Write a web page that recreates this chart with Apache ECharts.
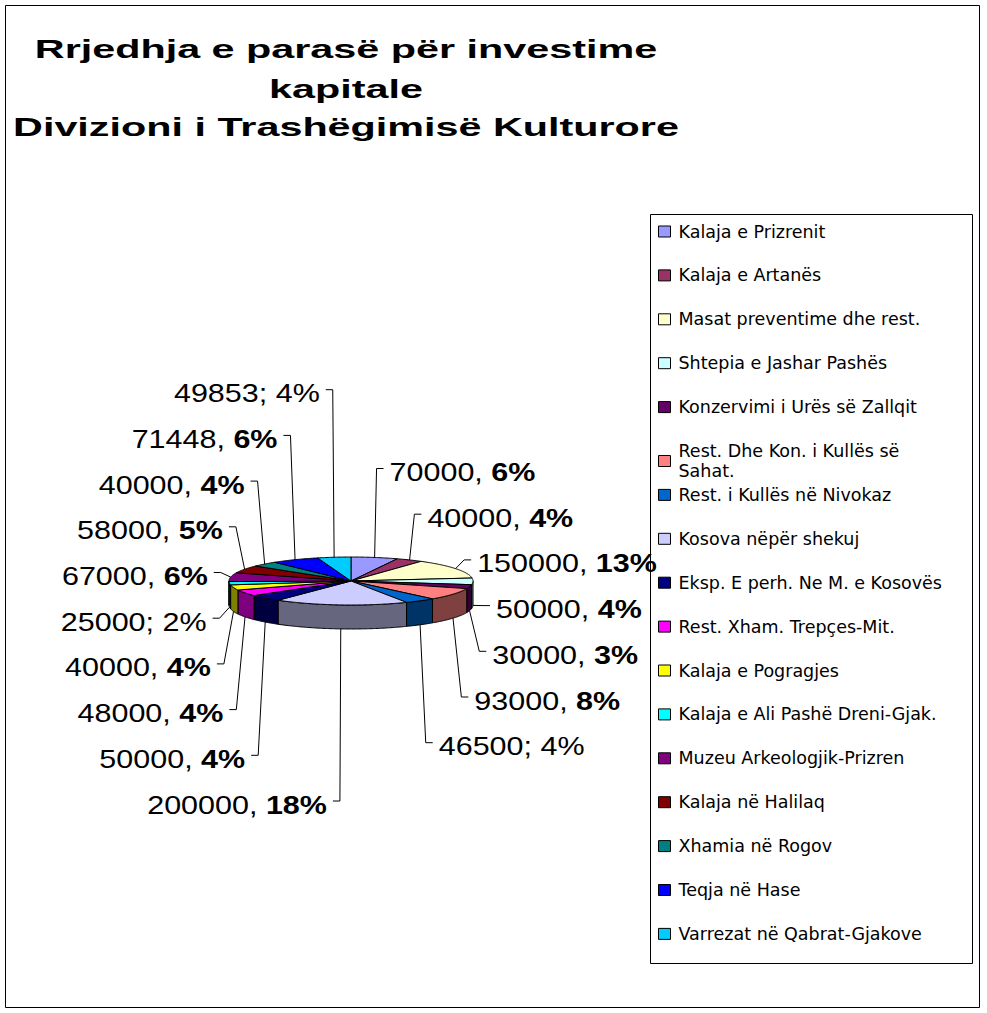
<!DOCTYPE html>
<html>
<head>
<meta charset="UTF-8">
<title>Rrjedhja e parasë për investime kapitale</title>
<script src="https://cdn.jsdelivr.net/npm/echarts@6/dist/echarts.min.js"></script>
<style>
    body { margin: 0; padding: 0; background: #ffffff; }
    #app { width: 987px; height: 1013px; }
</style>
</head>
<body>
<div id="app"></div>
<script>
    var titleLines = ['Rrjedhja e parasë për investime', 'kapitale', 'Divizioni i Trashëgimisë Kulturore'];
    var names = ['Kalaja e Prizrenit', 'Kalaja e Artanës', 'Masat preventime dhe rest.', 'Shtepia e Jashar Pashës',
        'Konzervimi i Urës së Zallqit', 'Rest. Dhe Kon. i Kullës së Sahat.', 'Rest. i Kullës në Nivokaz',
        'Kosova nëpër shekuj', 'Eksp. E perh. Ne M. e Kosovës', 'Rest. Xham. Trepçes-Mit.', 'Kalaja e Pogragjes',
        'Kalaja e Ali Pashë Dreni-Gjak.', 'Muzeu Arkeologjik-Prizren', 'Kalaja në Halilaq', 'Xhamia në Rogov',
        'Teqja në Hase', 'Varrezat në Qabrat-Gjakove'];
    var values = [70000, 40000, 150000, 50000, 30000, 93000, 46500, 200000, 50000, 48000, 40000, 25000, 67000, 58000, 40000, 71448, 49853];
    // label separator as printed on the chart (';' labels have a plain percent)
    var separators = [',', ',', ',', ',', ',', ',', ';', ',', ',', ',', ',', ';', ',', ',', ',', ',', ';'];
    var colors = ['#9999FF', '#993366', '#FFFFCC', '#CCFFFF', '#660066', '#FF8080', '#0066CC', '#CCCCFF', '#000080',
        '#FF00FF', '#FFFF00', '#00FFFF', '#800080', '#800000', '#008080', '#0000FF', '#00CCFF'];

    var total = values.reduce(function (a, b) { return a + b; }, 0);
    var cum = [0];
    values.forEach(function (v, i) { cum.push(cum[i] + v); });

    // pie geometry (flat 3d look)
    var cx = 351, cy = 581, rx = 122, ry = 24, depth = 24;
    var labelGap = 45.7, rightTop = 472.5, leftBottom = 805;

    var nRight = 0;
    values.forEach(function (v, i) {
        if ((cum[i] + v / 2) / total < 0.5) nRight++;
    });

    function shade(hex) {
        var c = parseInt(hex.slice(1), 16);
        var r = (c >> 16) >> 1, g = ((c >> 8) & 255) >> 1, b = (c & 255) >> 1;
        return 'rgb(' + r + ',' + g + ',' + b + ')';
    }

    function pt(a, dy) {
        return [cx + rx * Math.sin(a), cy - ry * Math.cos(a) + (dy || 0)];
    }

    function arc(a0, a1, dy) {
        var n = Math.max(2, Math.ceil((a1 - a0) / 0.01));
        var out = [];
        for (var k = 0; k <= n; k++) out.push(pt(a0 + (a1 - a0) * k / n, dy));
        return out;
    }

    function renderSlice(params, api) {
        var i = params.dataIndex;
        var a0 = cum[i] / total * Math.PI * 2;
        var a1 = cum[i + 1] / total * Math.PI * 2;
        var children = [];

        // visible outer wall (front half only)
        var w0 = Math.max(a0, Math.PI / 2), w1 = Math.min(a1, Math.PI * 1.5);
        if (w1 > w0) {
            var top = arc(w0, w1, 0);
            var bot = arc(w0, w1, depth).reverse();
            children.push({
                type: 'polygon', z2: 1,
                shape: {points: top.concat(bot)},
                style: {fill: shade(colors[i]), stroke: '#000', lineWidth: 1, lineJoin: 'round'}
            });
        }
        // top face
        children.push({
            type: 'polygon', z2: 5,
            shape: {points: [[cx, cy]].concat(arc(a0, a1, 0))},
            style: {fill: colors[i], stroke: '#000', lineWidth: 1, lineJoin: 'round'}
        });

        // label + leader line
        var mid = (a0 + a1) / 2;
        var front = Math.cos(mid) < 0;
        var right = mid < Math.PI;
        var sign = right ? 1 : -1;
        var s = pt(mid, front ? depth : 0);
        var ly = right ? rightTop + i * labelGap : leftBottom - (i - nRight) * labelGap;
        var elbowX = s[0] + sign * 10 * Math.abs(Math.sin(mid));
        var tailX = elbowX + sign * 7;
        var textX = tailX + sign * 6;
        children.push({
            type: 'polyline', z2: 8,
            shape: {points: [s, [elbowX, ly - 4], [tailX, ly - 4]]},
            style: {stroke: '#000', lineWidth: 1, fill: null}
        });
        var pct = Math.round(api.value(0) / total * 100) + '%';
        var txt = separators[i] === ';'
            ? '{n|' + api.value(0) + '; ' + pct + '}'
            : '{n|' + api.value(0) + ', }{b|' + pct + '}';
        children.push({
            type: 'text', z2: 10,
            x: textX, y: ly, scaleX: 1.22,
            style: {
                text: txt,
                align: right ? 'left' : 'right',
                verticalAlign: 'middle',
                fontSize: 25,
                fontFamily: 'Liberation Sans, Arial, sans-serif',
                fill: '#000',
                rich: {
                    n: {fontSize: 25, fontFamily: 'Liberation Sans, Arial, sans-serif', fill: '#000'},
                    b: {fontSize: 25, fontWeight: 'bold', fontFamily: 'Liberation Sans, Arial, sans-serif', fill: '#000'}
                }
            }
        });
        return {type: 'group', children: children};
    }

    var titleY = [49, 89, 127];
    var graphics = [
        {type: 'rect', silent: true, shape: {x: 5.5, y: 5.5, width: 974, height: 1002},
            style: {fill: 'none', stroke: '#000', lineWidth: 1}},
        {type: 'rect', silent: true, shape: {x: 650.5, y: 214.5, width: 322, height: 749},
            style: {fill: 'none', stroke: '#000', lineWidth: 1}}
    ];
    titleLines.forEach(function (t, k) {
        graphics.push({
            type: 'text', silent: true, x: 346, y: titleY[k], scaleX: 1.59,
            style: {
                text: t, fontSize: 26, fontWeight: 'bold', fontFamily: 'Liberation Sans, Arial, sans-serif',
                fill: '#000', align: 'center', verticalAlign: 'middle'
            }
        });
    });

    // legend split in two blocks so the wrapped entry does not push the rest down
    var legendPitch = 43.9, legendTop = 221.5, legendSplit = 6;
    function legendBlock(list, top) {
        return {
            orient: 'vertical',
            left: 658,
            top: top,
            padding: 0,
            itemWidth: 12,
            itemHeight: 11,
            itemGap: legendPitch - 20,
            icon: 'rect',
            selectedMode: false,
            itemStyle: {borderColor: '#000', borderWidth: 1},
            textStyle: {
                fontFamily: 'DejaVu Sans', fontSize: 17.5, color: '#000',
                lineHeight: 20, width: 275, overflow: 'break', padding: [0, 0, 0, 3]
            },
            data: list
        };
    }

    var chart = echarts.init(document.getElementById('app'), null, {renderer: 'svg'});
    chart.setOption({
        animation: false,
        backgroundColor: '#ffffff',
        graphic: graphics,
        legend: [
            legendBlock(names.slice(0, legendSplit), legendTop),
            legendBlock(names.slice(legendSplit), legendTop + legendSplit * legendPitch)
        ],
        series: [
            {
                // carries legend colours only
                type: 'pie',
                radius: [0, 0],
                silent: true,
                label: {show: false},
                labelLine: {show: false},
                data: names.map(function (n, i) {
                    return {name: n, value: values[i], itemStyle: {color: colors[i]}};
                })
            },
            {
                type: 'custom',
                name: '3d pie',
                coordinateSystem: 'none',
                silent: true,
                renderItem: renderSlice,
                data: names.map(function (n, i) {
                    return {name: n, value: values[i]};
                })
            }
        ]
    });
</script>
</body>
</html>
